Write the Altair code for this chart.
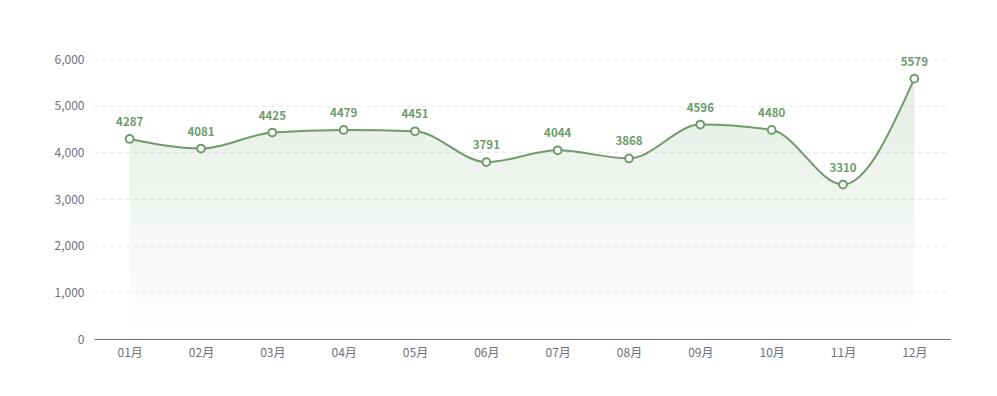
import altair as alt
import pandas as pd

months = ["01月", "02月", "03月", "04月", "05月", "06月", "07月", "08月", "09月", "10月", "11月", "12月"]
values = [4287, 4081, 4425, 4479, 4451, 3791, 4044, 3868, 4596, 4480, 3310, 5579]
y_ticks = [0, 1000, 2000, 3000, 4000, 5000, 6000]

df = pd.DataFrame({"month": months, "value": values})

GREEN = "#6d9b69"
FONT = "Noto Sans CJK SC"

x = alt.X("month:O", sort=months, title=None,
          scale=alt.Scale(type="point", padding=0.5),
          axis=alt.Axis(labelAngle=0, ticks=False, domainColor="#6e7079", domainWidth=1,
                        labelColor="#6e7079", labelFontSize=12, labelPadding=8,
                        labelFont=FONT, grid=False))
y = alt.Y("value:Q", title=None,
          scale=alt.Scale(domain=[0, 6000]),
          axis=alt.Axis(values=y_ticks, format=",d",
                        domain=False, ticks=False, labelColor="#6e7079", labelFontSize=12,
                        labelPadding=10, labelFont=FONT,
                        gridColor="#e8e8e8", gridDash=[4, 4]))

base = alt.Chart(df)

area = base.mark_area(
    interpolate="monotone",
    color=alt.Gradient(
        gradient="linear",
        stops=[alt.GradientStop(color="rgba(109,155,105,0.18)", offset=0),
               alt.GradientStop(color="rgba(109,155,105,0.0)", offset=1)],
        x1=1, x2=1, y1=0, y2=1,
    ),
).encode(x=x, y=y)

line = base.mark_line(interpolate="monotone", color=GREEN, strokeWidth=2).encode(x=x, y=y)

points = base.mark_point(filled=True, fill="white", stroke=GREEN, strokeWidth=2, size=60, opacity=1).encode(x=x, y=y)

labels = base.mark_text(dy=-16, color=GREEN, fontWeight="bold", fontSize=11.5, font=FONT).encode(
    x=x, y=y, text="value:Q")

chart = alt.layer(area, line, points, labels).properties(
    width=856, height=280,
    autosize=alt.AutoSizeParams(type="none"),
    padding={"left": 86, "top": 51, "right": 39, "bottom": 57},
    background="white",
).configure_view(stroke=None)

chart.save("out.html", embed_options={"renderer": "svg", "actions": False})
